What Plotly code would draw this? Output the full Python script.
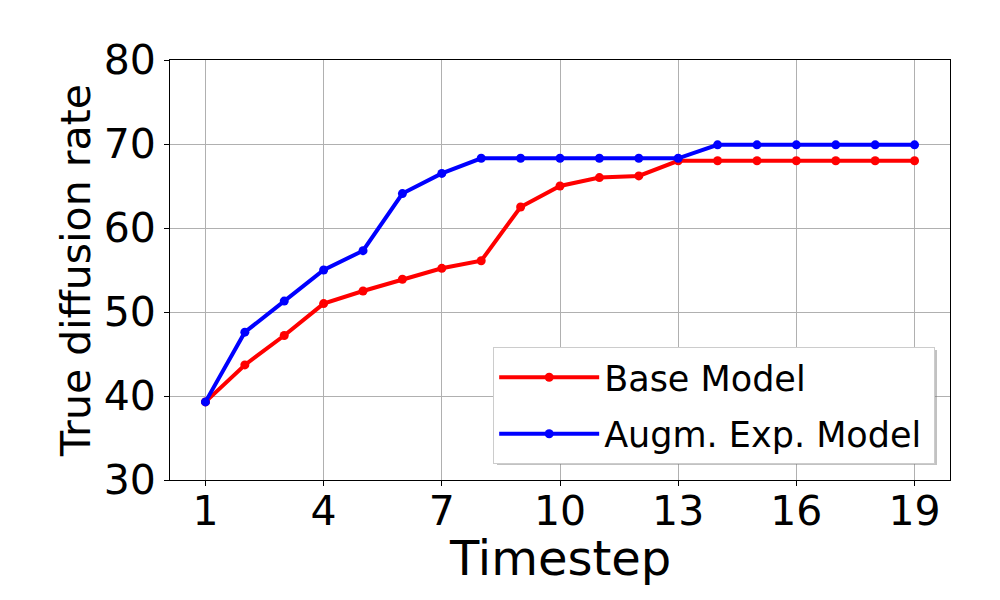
import plotly.graph_objects as go

# Data
timesteps = list(range(1, 20))
base_model = [39.3, 43.7, 47.2, 51.0, 52.5, 53.9, 55.2, 56.1, 62.5, 65.0,
              66.0, 66.2, 68.0, 68.0, 68.0, 68.0, 68.0, 68.0, 68.0]
augm_model = [39.3, 47.6, 51.3, 55.0, 57.3, 64.1, 66.5, 68.3, 68.3, 68.3,
              68.3, 68.3, 68.3, 69.9, 69.9, 69.9, 69.9, 69.9, 69.9]
x_ticks = [1, 4, 7, 10, 13, 16, 19]
y_ticks = [30, 40, 50, 60, 70, 80]

FONT = "DejaVu Sans"

fig = go.Figure()
fig.add_trace(go.Scatter(x=timesteps, y=base_model, name="Base Model\u2009",
                         mode="lines+markers", legendgroup="base",
                         line=dict(color="#ff0000", width=4),
                         marker=dict(color="#ff0000", size=9)))
fig.add_trace(go.Scatter(x=timesteps, y=augm_model, name="Augm. Exp. Model\u2009",
                         mode="lines+markers", legendgroup="augm",
                         line=dict(color="#0000ff", width=4),
                         marker=dict(color="#0000ff", size=9)))

axis_common = dict(showline=True, linecolor="black", linewidth=1, mirror=True,
                   showgrid=True, gridcolor="#b0b0b0", gridwidth=1,
                   ticks="outside", ticklen=5, tickcolor="black",
                   tickfont=dict(family=FONT, size=41, color="black"),
                   zeroline=False)

# x title as an annotation so it can sit closer to the tick labels
fig.add_annotation(text="Timestep", xref="paper", yref="paper", x=0.5, y=0,
                   xanchor="center", yanchor="middle", yshift=-78,
                   showarrow=False, font=dict(family=FONT, size=48, color="black"))

# soft shadow behind the legend box
fig.add_shape(type="rect", xref="paper", yref="paper", layer="above",
              x0=(497 - 170) / 780, x1=(937 - 170) / 780,
              y0=(480 - 465) / 420, y1=(480 - 350) / 420,
              line=dict(width=0), fillcolor="rgba(120,120,120,0.45)")

# the page adds an 8px body margin, so margins are shifted by that much
fig.update_layout(
    width=1000, height=600,
    paper_bgcolor="white", plot_bgcolor="white",
    margin=dict(l=162, r=58, t=52, b=128),
    font=dict(family=FONT, color="black"),
    xaxis=dict(range=[0.1, 19.9], tickvals=x_ticks, ticklabelstandoff=-10,
               **axis_common),
    yaxis=dict(range=[30, 80], tickvals=y_ticks,
               title=dict(text="True diffusion rate", font=dict(family=FONT, size=41),
                          standoff=0),
               **axis_common),
    legend=dict(x=0.981, y=0.038, xanchor="right", yanchor="bottom",
                bgcolor="white", bordercolor="#cccccc", borderwidth=1,
                traceorder="grouped", tracegroupgap=8, itemwidth=100,
                font=dict(family=FONT, size=35, color="black")),
    showlegend=True,
)

fig.write_html("out.html")
